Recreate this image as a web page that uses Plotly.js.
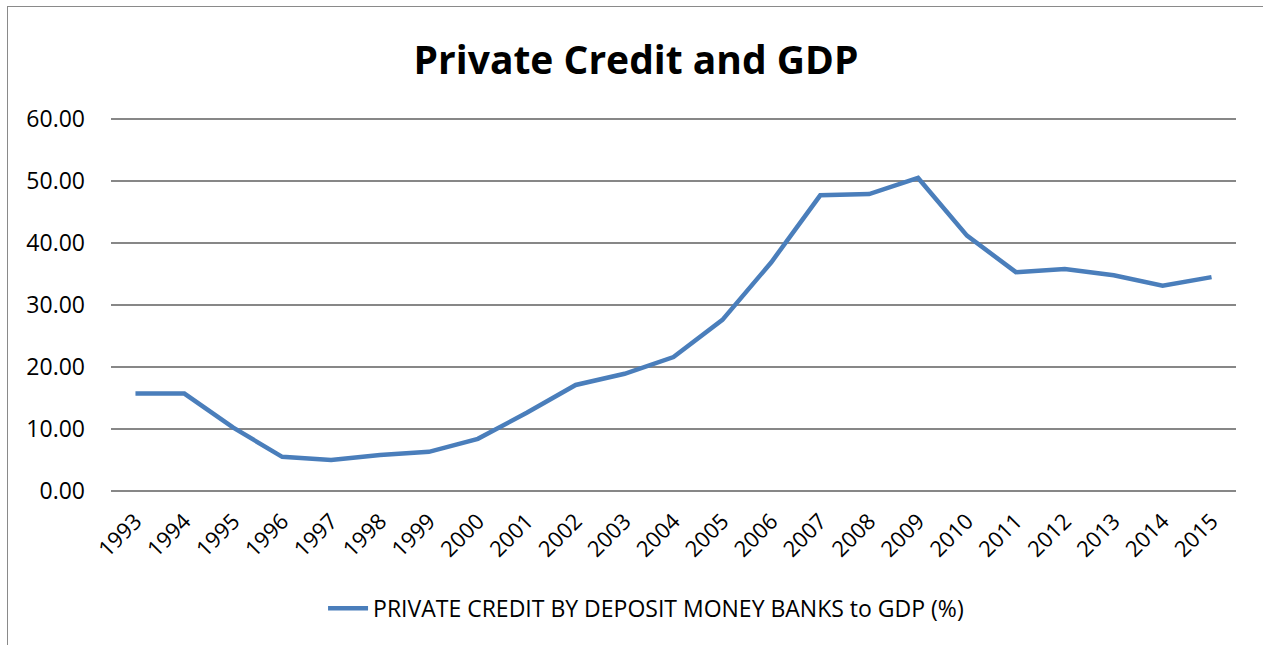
<!DOCTYPE html>
<html>
<head>
<meta charset="utf-8">
<script src="https://cdn.plot.ly/plotly-3.0.1.min.js"></script>
<style>
  html, body { margin: 0; padding: 0; background: #fff; overflow: hidden; }
  #frame { position: absolute; left: 7px; top: 6px; width: 1262px; height: 645px;
           border-left: 1.5px solid #8a8a8a; border-top: 1.5px solid #8a8a8a; }
  #chart { width: 1256px; height: 639px; }
</style>
</head>
<body>
<div id="frame"><div id="chart"></div></div>
<script>
const years = ["1993","1994","1995","1996","1997","1998","1999","2000","2001","2002","2003","2004",
               "2005","2006","2007","2008","2009","2010","2011","2012","2013","2014","2015"];
const privateCredit = [15.7, 15.7, 10.2, 5.5, 5.0, 5.8, 6.3, 8.4, 12.6, 17.1, 18.9, 21.6,
                       27.6, 36.9, 47.7, 47.9, 50.5, 41.2, 35.3, 35.8, 34.8, 33.1, 34.5];
const seriesName = "PRIVATE CREDIT BY DEPOSIT MONEY BANKS to GDP (%)";
const yTicks = [0, 10, 20, 30, 40, 50, 60];

const font = "Open Sans, sans-serif";

Plotly.newPlot("chart", [{
  type: "scatter",
  mode: "lines",
  x: years,
  y: privateCredit,
  name: seriesName,
  line: { color: "#4a7ebb", width: 4.5 }
}], {
  width: 1256,
  height: 639,
  paper_bgcolor: "#fff",
  plot_bgcolor: "#fff",
  margin: { l: 103, r: 28, t: 109, b: 152 },
  showlegend: true,
  title: {
    text: "<b>Private Credit and GDP</b>",
    font: { family: font, size: 39, color: "#000" },
    x: 0.5, xref: "container", xanchor: "center",
    y: 0.917, yref: "container", yanchor: "middle"
  },
  xaxis: {
    type: "category",
    range: [-0.5, 22.5],
    showgrid: false,
    showline: false,
    zeroline: false,
    tickangle: -45,
    ticks: "",
    ticklabelstandoff: 9,
    tickfont: { family: font, size: 22, color: "#000" },
    fixedrange: true
  },
  yaxis: {
    range: [-0.5, 60.5],
    tickvals: yTicks,
    tickformat: ".2f",
    showgrid: true,
    gridcolor: "#878787",
    gridwidth: 1.5,
    zeroline: false,
    showline: false,
    ticks: "",
    ticklabelstandoff: 25,
    tickfont: { family: font, size: 23, color: "#000" },
    fixedrange: true
  },
  legend: {
    orientation: "h",
    x: 0.508, xref: "container", xanchor: "center",
    y: 0.059, yref: "container", yanchor: "middle",
    font: { family: font, size: 23, color: "#000" },
    itemwidth: 40
  }
}, { displayModeBar: false, staticPlot: true });
</script>
</body>
</html>
